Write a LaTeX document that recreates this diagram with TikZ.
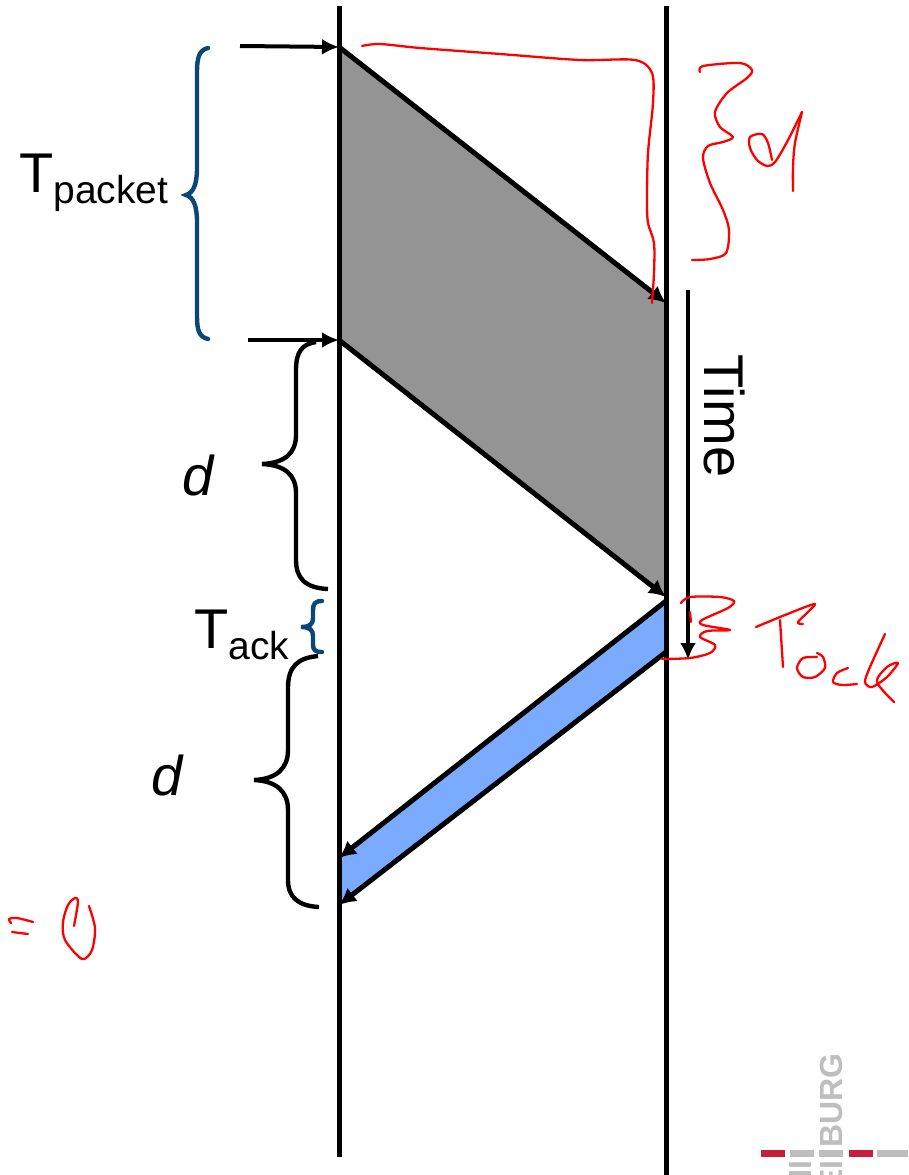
\documentclass[tikz,border=0pt]{standalone}
\usepackage{fontspec}
\setmainfont{Liberation Sans}
\usepackage{tikz}
\usetikzlibrary{arrows.meta,calc,positioning}
\definecolor{packetgray}{RGB}{148,148,148}
\definecolor{ackblue}{RGB}{122,171,255}
\definecolor{bracenavy}{RGB}{10,70,120}
\definecolor{inkred}{RGB}{255,0,0}
\definecolor{logored}{RGB}{200,30,60}
\definecolor{logogray}{RGB}{190,190,190}
\tikzset{
  timeline/.style={line width=5pt},
  msgline/.style={line width=5pt,-{Latex[length=17pt,width=17pt]}},
  smallarrow/.style={line width=4pt,-{Latex[length=17pt,width=16pt]}},
  navybrace/.style={line width=4.4pt,color=bracenavy,line cap=round},
  blackbrace/.style={line width=4.4pt},
  ink/.style={line width=2.3pt,color=inkred,line cap=round,line join=round},
  bar/.style={fill,minimum width=24pt,minimum height=7pt,inner sep=0pt,draw=none},
  lbl/.style={inner sep=0pt,font=\fontsize{56}{60}\selectfont},
  logotxt/.style={inner sep=0pt,color=logogray,rotate=90,font=\bfseries\fontsize{32}{32}\selectfont}
}
\newcommand{\tsub}[1]{T{\fontsize{39}{40}\selectfont\raisebox{-11pt}{#1}}}
\begin{document}
\begin{tikzpicture}[x=1pt,y=-1pt]
\useasboundingbox (0,0) rectangle (908,1175);
\clip (0,0) rectangle (908,1175);
%--- punti sulle linee ---
\coordinate (senderTop) at (339,6);
\coordinate (senderBot) at (339,1157);
\coordinate (recvTop) at (666,6);
\coordinate (recvBot) at (666,1175);
\coordinate (pktA) at (339,47);
\coordinate (pktB) at (666,303);
\coordinate (pktC) at (666,597);
\coordinate (pktD) at (339,340);
\coordinate (ackA) at (666,601);
\coordinate (ackB) at (666,652);
\coordinate (ackC) at (339,905);
\coordinate (ackD) at (339,858);
\coordinate (startA) at (240,46);
\coordinate (startB) at (248,340);
\coordinate (timeA) at (688,290);
\coordinate (timeB) at (688,660);
%--- aree ---
\fill[packetgray] (pktA) -- (pktB) -- (pktC) -- (pktD) -- cycle;
\fill[ackblue] (ackA) -- (ackB) -- (ackC) -- (ackD) -- cycle;
%--- linee del tempo ---
\draw[timeline] (senderTop) -- (senderBot);
\draw[timeline] (recvTop) -- (recvBot);
%--- pacchetto e ack ---
\draw[msgline] (pktA) -- (pktB);
\draw[msgline] (pktD) -- (pktC);
\draw[msgline] (ackA) -- (ackD);
\draw[msgline] (ackB) -- (ackC);
\draw[smallarrow] (startA) -- (pktA);
\draw[smallarrow] (startB) -- (pktD);
\draw[smallarrow] (timeA) -- (timeB);
%--- graffe ---
\draw[navybrace] (208,48) .. controls (199,50) and (197,58) .. (197,72) -- (197,168)
  .. controls (197,185) and (193,193) .. (186,195) .. controls (193,197) and (197,205) .. (197,222)
  -- (197,316) .. controls (197,330) and (199,337) .. (208,339);
\draw[navybrace] (322,601) .. controls (315,601) and (313,604) .. (313,610) -- (313,618)
  .. controls (313,624) and (310,627) .. (301,627) .. controls (310,627) and (313,630) .. (313,636)
  -- (313,644) .. controls (313,650) and (315,652) .. (322,652);
\draw[blackbrace] (316,342) .. controls (302,344) and (296,352) .. (296,370) -- (296,435)
  .. controls (296,453) and (285,463) .. (262,464) .. controls (285,465) and (296,475) .. (296,493)
  -- (296,560) .. controls (296,578) and (305,588) .. (328,589);
\draw[blackbrace] (318,656) .. controls (298,658) and (288,666) .. (288,688) -- (288,750)
  .. controls (288,768) and (277,779) .. (254,780) .. controls (277,781) and (288,792) .. (288,810)
  -- (288,880) .. controls (288,897) and (298,906) .. (319,907);
%--- etichette ---
\node[lbl,anchor=base west] (tpacket) at (19,192) {\tsub{packet}};
\node[lbl,anchor=base west] (tack) at (194,648) {\tsub{ack}};
\node[lbl] (dOne) at (198,475) {\itshape d};
\node[lbl] (dTwo) at (167,775) {\itshape d};
\node[lbl,rotate=-90] (timeLbl) at (725,416) {Time};
%--- appunti a mano ---
\draw[ink] plot[smooth,tension=0.5] coordinates {(362,46) (380,44) (420,48) (500,54) (580,60) (635,60) (652,73) (653,103) (648,153) (647,200) (648,223) (654,243) (654,273) (652,303)};
\draw[ink] plot[smooth,tension=0.5] coordinates {(700,72) (703,66) (740,63) (752,70) (747,78) (727,93) (715,112) (720,127) (733,137) (723,142) (708,146) (703,158) (710,183) (723,210) (729,230) (726,253) (710,259) (692,260)};
\draw[ink] plot[smooth,tension=0.5] coordinates {(772,160) (768,143) (762,134) (750,137) (750,148) (757,160) (767,166) (775,162) (787,142) (802,112)};
\draw[ink] plot[smooth,tension=0.5] coordinates {(802,112) (795,143) (793,167) (793,191)};
\draw[ink] plot[smooth,tension=0.5] coordinates {(681,603) (690,597) (720,597) (734,601) (728,608) (702,620) (703,625) (730,630) (707,631) (700,637) (715,645) (710,653) (690,658) (662,659)};
\draw[ink] (690,612) -- (691,622);
\draw[ink] plot[smooth,tension=0.4] coordinates {(756,627) (785,615) (815,604) (798,622) (803,624)};
\draw[ink] (780,620) -- (783,667);
\draw[ink] plot[smooth,tension=0.5] coordinates {(817,657) (803,658) (797,668) (803,677) (815,677) (825,668) (823,657) (817,653)};
\draw[ink] plot[smooth,tension=0.5] coordinates {(848,668) (837,673) (833,682) (842,685) (857,684)};
\draw[ink] plot[smooth,tension=0.5] coordinates {(885,634) (870,667) (865,682) (872,687) (887,677) (898,663) (887,667) (877,682) (894,702)};
\draw[ink] plot[smooth,tension=0.5] coordinates {(11,923) (9,919) (17,918) (33,922)};
\draw[ink] (12,932) -- (28,934);
\draw[ink] plot[smooth,tension=0.5] coordinates {(74,926) (78,902) (75,898) (68,905) (63,922) (65,940) (82,959) (92,950) (95,928) (89,906)};
%--- logo ---
\foreach \x/\c in {773/logored,802/logogray,831/logogray,861/logored}{
  \node[bar,color=\c] (bar\x) at (\x,1153.5) {};
}
\node[bar,color=logogray,minimum width=31pt] (barEnd) at (892.5,1153.5) {};
\node[logotxt,anchor=west] (logoA) at (831.5,1148) {BURG};
\node[logotxt,anchor=east] (logoB) at (831.5,1160) {FREI};
\node[logotxt,anchor=east] (logoC) at (801,1160) {UNI};
\end{tikzpicture}
\end{document}
